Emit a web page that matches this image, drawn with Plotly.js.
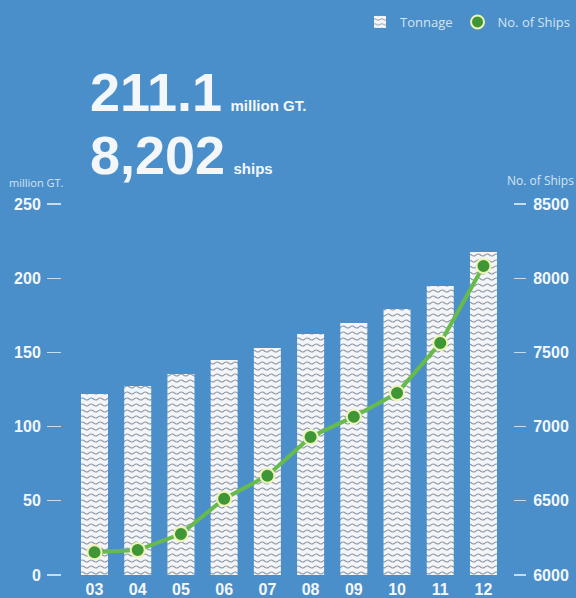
<!DOCTYPE html>
<html>
<head>
<meta charset="utf-8">
<script src="https://cdn.plot.ly/plotly-3.0.1.min.js"></script>
<style>
  html, body { margin: 0; padding: 0; background: #4a8fca; }
  #chart { width: 576px; height: 598px; }
</style>
</head>
<body>
<div id="chart"></div>
<script>
const years = ['03', '04', '05', '06', '07', '08', '09', '10', '11', '12'];
const tonnage = [122, 127.4, 135.4, 144.9, 153, 162.4, 169.8, 179.2, 194.7, 217.7];
const ships = [6153, 6168, 6276, 6514, 6669, 6930, 7067, 7226, 7563, 8082];
const leftTicks = [0, 50, 100, 150, 200, 250];
const rightTicks = [6000, 6500, 7000, 7500, 8000, 8500];

const BG = '#4a8fca';
const TXT = '#f4f7fa';
const SOFT = '#d6e4f1';
const BOLD = '"Liberation Sans", Arial, sans-serif';
const LIGHT = '"Open Sans", sans-serif';

const traces = [
  {
    type: 'bar',
    name: 'Tonnage',
    x: years,
    y: tonnage,
    width: 0.625,
    marker: {
      color: '#f3f5f8',
      line: { width: 0 },
      pattern: { shape: '-', size: 10, solidity: 0.12, fgcolor: '#8c96a3', bgcolor: '#f3f5f8', fillmode: 'replace' }
    },
    hoverinfo: 'skip'
  },
  {
    type: 'scatter',
    mode: 'lines+markers',
    name: 'No. of Ships',
    x: years,
    y: ships,
    yaxis: 'y2',
    showlegend: false,
    line: { color: '#66bb4c', width: 4 },
    marker: { color: '#3f9636', size: 14, line: { color: '#eef4b4', width: 2 } },
    hoverinfo: 'skip'
  },
  {
    // legend entry only (marker symbol, no line), no data
    type: 'scatter',
    mode: 'markers',
    name: 'No. of Ships',
    x: [null],
    y: [null],
    yaxis: 'y2',
    marker: { color: '#3f9636', size: 13, line: { color: '#eef4b4', width: 2 } },
    hoverinfo: 'skip'
  }
];

const px = (p) => (p - 62) / 451;
const py = (p) => (575 - p) / 371;

const layout = {
  width: 576,
  height: 598,
  margin: { l: 62, r: 63, t: 204, b: 23, pad: 0, autoexpand: false },
  paper_bgcolor: BG,
  plot_bgcolor: BG,
  showlegend: true,
  legend: {
    orientation: 'h',
    xref: 'container', yref: 'container',
    x: 1, xanchor: 'right',
    y: 1 - 22 / 598, yanchor: 'middle',
    font: { family: LIGHT, size: 13, color: SOFT },
    bgcolor: 'rgba(0,0,0,0)',
    itemwidth: 30,
    traceorder: 'normal'
  },
  xaxis: {
    type: 'category',
    range: [-0.752, 9.683],
    showgrid: false, zeroline: false, showline: false,
    ticks: '',
    tickfont: { family: BOLD, size: 16, color: TXT, weight: 'bold' },
    ticklabelstandoff: 3,
    fixedrange: true
  },
  yaxis: {
    range: [0, 250],
    tickvals: leftTicks,
    showgrid: false, zeroline: false, showline: false,
    ticks: 'outside', ticklen: 14, tickwidth: 1.2, tickcolor: '#c7dcef',
    tickfont: { family: BOLD, size: 16, color: TXT, weight: 'bold' },
    ticklabelstandoff: 3,
    fixedrange: true
  },
  yaxis2: {
    overlaying: 'y',
    side: 'right',
    range: [6000, 8500],
    tickvals: rightTicks,
    showgrid: false, zeroline: false, showline: false,
    ticks: 'outside', ticklen: 12, tickwidth: 1.2, tickcolor: '#c7dcef',
    tickfont: { family: BOLD, size: 16, color: TXT, weight: 'bold' },
    ticklabelstandoff: 4,
    fixedrange: true
  },
  annotations: [
    {
      xref: 'paper', yref: 'paper', x: px(88), y: py(92),
      xanchor: 'left', yanchor: 'middle', showarrow: false,
      text: '<b>211.1</b><span style="font-size:15px"><b>&nbsp;&nbsp;million GT.</b></span>',
      font: { family: BOLD, size: 54, color: TXT }
    },
    {
      xref: 'paper', yref: 'paper', x: px(88), y: py(155),
      xanchor: 'left', yanchor: 'middle', showarrow: false,
      text: '<b>8,202</b><span style="font-size:15px"><b>&nbsp;&nbsp;ships</b></span>',
      font: { family: BOLD, size: 54, color: TXT }
    },
    {
      xref: 'paper', yref: 'paper', x: px(7), y: py(182),
      xanchor: 'left', yanchor: 'middle', showarrow: false,
      text: 'million GT.',
      font: { family: LIGHT, size: 11, color: SOFT }
    },
    {
      xref: 'paper', yref: 'paper', x: px(576), y: py(181),
      xanchor: 'right', yanchor: 'middle', showarrow: false,
      text: 'No. of Ships',
      font: { family: LIGHT, size: 12, color: SOFT }
    }
  ]
};

Plotly.newPlot('chart', traces, layout, { staticPlot: true, displayModeBar: false }).then(() => {
  // turn the horizontal-line fill pattern into a wavy one
  document.querySelectorAll('#chart pattern').forEach((pat) => {
    const path = pat.querySelector('path');
    if (!path) return;
    pat.setAttribute('width', 9);
    pat.setAttribute('height', 6);
    path.setAttribute('d', 'M0,3 Q2.25,1 4.5,3 T9,3');
    path.setAttribute('fill', 'none');
    path.setAttribute('stroke-width', '1.1px');
  });
});
</script>
</body>
</html>
